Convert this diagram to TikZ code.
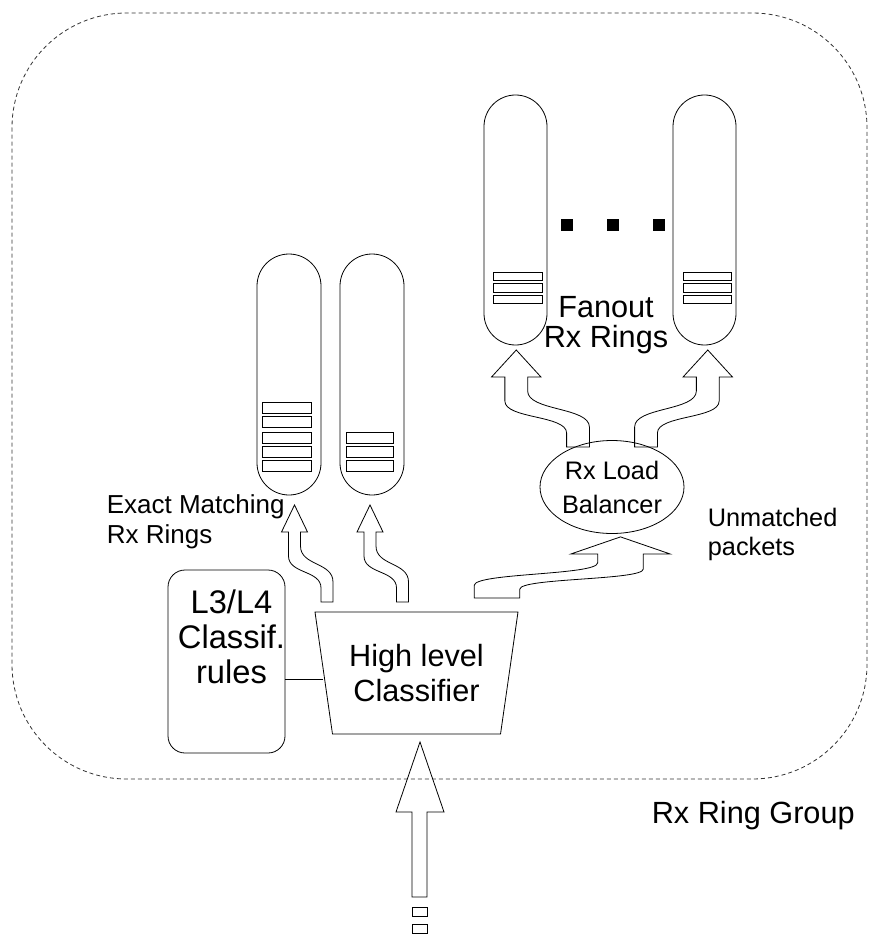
\documentclass[tikz,border=0pt]{standalone}
\usepackage{fontspec}
\setmainfont{Liberation Sans}
\usetikzlibrary{shapes.geometric}

\newdimen\pxu
\pxu=0.75pt

\tikzset{
	ring/.style={draw, rounded corners=32\pxu, minimum width=64\pxu, minimum height=241\pxu, inner sep=0pt},
	fanring/.style={ring, rounded corners=31.5\pxu, minimum width=63\pxu, minimum height=250\pxu},
	bigtext/.style={font=\fontsize{23}{26.25}\selectfont},
	smalltext/.style={font=\fontsize{19}{22.5}\selectfont},
	sarrow/.pic={
		\draw (6,0) -- (6,-20) .. controls (6,-40) and (-26.5,-36) .. (-26.5,-56) -- (-26.5,-70)
			-- (-19.5,-70) -- (-32.5,-97) -- (-45.5,-70) -- (-38.5,-70) -- (-38.5,-46)
			.. controls (-38.5,-28) and (-6,-32) .. (-6,-14) -- (-6,0) -- cycle;
	}
}

\begin{document}
\begin{tikzpicture}[x=0.75pt, y=-0.75pt, line width=0.6pt]
		\useasboundingbox (0,0) rectangle (869,934);
		
		% the ring group
		\draw[dash pattern=on 3pt off 2.25pt, black!80, rounded corners=86pt] (12,13) rectangle (867,779);
		\node[bigtext, anchor=base west] (group) at (647,823) {Rx Ring Group};
		
		% exact matching rings
		\node[ring] (exact1) at (289,374.5) {};
		\node[ring] (exact2) at (372,374.5) {};
		\foreach \t in {402,416,432,446,460}
			\draw (262,\t) rectangle (311,\t+11);
		\foreach \t in {432,446,460}
			\draw (346,\t) rectangle (393,\t+11);
		% base anchor of a multi-line node sits on its last line
		\node[font=\fontsize{19.5}{22.5}\selectfont, align=left, anchor=base west] (exactlabel) at (102,543) {Exact Matching\\Rx Rings};
		
		% fanout rings
		\node[fanring] (fan1) at (515.5,220) {};
		\node[fanring] (fan2) at (704.5,220) {};
		\foreach \t in {272,283.5,295}
		{
			\draw (493,\t) rectangle (542,\t+8.5);
			\draw (683,\t) rectangle (731,\t+8.5);
		}
		\foreach \x in {567,613,659}
			\fill (\x-6,219) rectangle (\x+6,231);
		\node[font=\fontsize{23}{22.5}\selectfont, align=center, anchor=base] (fanlabel) at (606,347) {Fanout\\Rx Rings};
		
		% load balancer
		\node[draw, ellipse, minimum width=144\pxu, minimum height=93\pxu, inner sep=0pt,
			font=\fontsize{19}{25.5}\selectfont, align=center] (lb) at (612,487) {Rx Load\\Balancer};
		\node[font=\fontsize{19}{21.75}\selectfont, align=left, anchor=base west] (unmatched) at (703,555) {Unmatched\\packets};
		
		% classifier with its rules
		\node[draw, trapezium, trapezium angle=73.1, shape border rotate=180, trapezium stretches body,
			minimum width=203\pxu, minimum height=122\pxu, inner sep=0pt, bigtext, align=center] (classifier) at (416.5,673) {High level\\Classifier};
		\node[draw, rounded corners=17\pxu, minimum width=117\pxu, minimum height=183\pxu] (rules) at (226.5,661.5) {};
		\node[font=\fontsize{24.5}{26.25}\selectfont, align=center, anchor=base] (rulestext) at (231.5,683) {L3/L4\\Classif.\\rules};
		\coordinate (tap) at (0,679);
		\draw (rules.east |- tap) -- (classifier.west |- tap);
		
		% curly arrows
		\pic at (327,602) {sarrow};
		\pic at (402.5,602) {sarrow};
		\pic[xscale=1.9] at (578,447) {sarrow};
		\pic[xscale=-1.9] at (646,447) {sarrow};
		\pic[xscale=-3.8, yscale=0.63] at (497,598) {sarrow};
		
		% incoming packets
		\draw (412,897) -- (412,812) -- (396,812) -- (420,742) -- (444,812) -- (427,812) -- (427,897) -- cycle;
		\draw (412,907) rectangle (427,916);
		\draw (412,924) rectangle (427,933);
	\end{tikzpicture}
\end{document}
